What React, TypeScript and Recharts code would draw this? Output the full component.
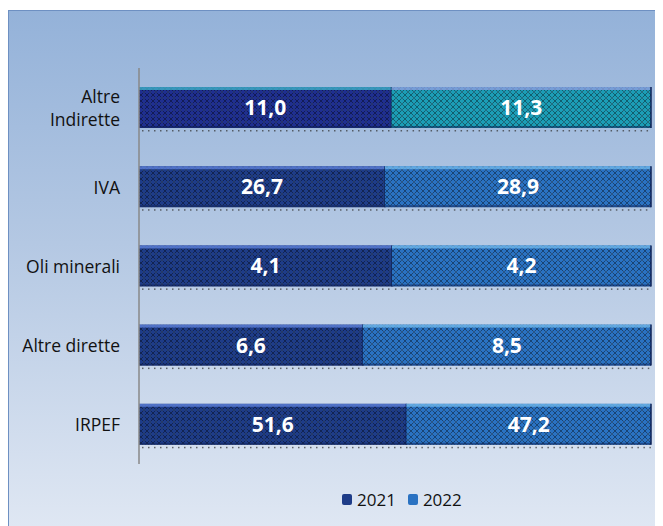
import { BarChart, Bar, XAxis, YAxis, Legend, LabelList, Cell } from 'recharts'

const categories = ['Altre Indirette', 'IVA', 'Oli minerali', 'Altre dirette', 'IRPEF']
const values2021 = [11.0, 26.7, 4.1, 6.6, 51.6]
const values2022 = [11.3, 28.9, 4.2, 8.5, 47.2]

const data = categories.map((name, i) => ({ name, v2021: values2021[i], v2022: values2022[i] }))

const fmt = (v: any) => Number(v).toFixed(1).replace('.', ',')

function CatTick(props: any) {
  const { x, y, payload } = props
  const text: string = payload.value
  const lines = text.length > 14 ? text.split(' ') : [text]
  const lh = 23
  const startY = y - ((lines.length - 1) * lh) / 2
  return (
    <text x={x - 11} y={startY} textAnchor="end" fontSize={17.5} fill="#111" fontFamily="Open Sans, sans-serif" dominantBaseline="central">
      {lines.map((l, i) => (
        <tspan key={i} x={x - 11} dy={i === 0 ? 0 : lh}>{l}</tspan>
      ))}
    </text>
  )
}

function BarShape(props: any) {
  const { x, y, width, height, fill, edge } = props
  if (!width || width <= 0) return null
  const dots = []
  for (let dx = 3; dx < width; dx += 6) {
    dots.push(<rect key={dx} x={x + dx} y={y + height + 2} width={1.5} height={1.5} fill="#333" opacity={0.7} />)
  }
  return (
    <g>
      <rect x={x} y={y} width={width} height={height} fill={fill} />
      <rect x={x} y={y} width={width} height={3} fill={edge} opacity={0.8} />
      <rect x={x} y={y + height - 2} width={width} height={2} fill="#0d1f55" opacity={0.5} />
      <line x1={x + width} y1={y} x2={x + width} y2={y + height} stroke="#0d1f55" strokeWidth={1.5} />
      {dots}
    </g>
  )
}

function LegendContent() {
  const items = [
    { label: '2021', color: '#1e3c88' },
    { label: '2022', color: '#2a72c2' },
  ]
  return (
    <div style={{ display: 'flex', gap: 12, paddingLeft: 333, fontFamily: 'Open Sans, sans-serif', fontSize: 17, color: '#111' }}>
      {items.map(it => (
        <div key={it.label} style={{ display: 'flex', alignItems: 'center', gap: 5 }}>
          <span style={{ display: 'inline-block', width: 10, height: 11, background: it.color, borderRadius: 2 }} />
          <span>{it.label}</span>
        </div>
      ))}
    </div>
  )
}

export default function App() {
  return (
    <div style={{
      marginTop: 2,
      width: 654,
      height: 516,
      border: '1px solid #6e90c2',
      borderBottom: 'none',
      background: 'linear-gradient(180deg, #94b2d9 0%, #b4c8e3 45%, #dfe7f3 100%)',
    }}>
      <BarChart
        width={654}
        height={516}
        data={data}
        layout="vertical"
        stackOffset="expand"
        barCategoryGap="24%"
        margin={{ top: 57, right: 12, left: 0, bottom: 40 }}
      >
        <defs>
          <pattern id="hatch" width="6" height="6" patternUnits="userSpaceOnUse">
            <path d="M0,0 L6,6 M6,0 L0,6" stroke="#000" strokeOpacity="0.4" strokeWidth="1" />
            <rect x="2.5" y="2.5" width="1" height="1" fill="#9fd0ff" fillOpacity="0.5" />
          </pattern>
          <pattern id="p21" width="6" height="6" patternUnits="userSpaceOnUse">
            <rect width="6" height="6" fill="#1e3c88" />
            <rect width="6" height="6" fill="url(#hatch)" />
          </pattern>
          <pattern id="p21b" width="6" height="6" patternUnits="userSpaceOnUse">
            <rect width="6" height="6" fill="#1f2f90" />
            <rect width="6" height="6" fill="url(#hatch)" />
          </pattern>
          <pattern id="p22" width="6" height="6" patternUnits="userSpaceOnUse">
            <rect width="6" height="6" fill="#2a72c2" />
            <rect width="6" height="6" fill="url(#hatch)" />
          </pattern>
          <pattern id="p22b" width="6" height="6" patternUnits="userSpaceOnUse">
            <rect width="6" height="6" fill="#1c9db6" />
            <rect width="6" height="6" fill="url(#hatch)" />
          </pattern>
        </defs>
        <XAxis type="number" hide domain={[0, 1]} />
        <YAxis
          type="category"
          dataKey="name"
          width={130}
          axisLine={{ stroke: '#888', strokeWidth: 1.5 }}
          tickLine={false}
          tick={<CatTick />}
        />
        <Legend verticalAlign="bottom" wrapperStyle={{ top: 477, left: 0, width: 654 }} content={<LegendContent />} />
        <Bar dataKey="v2021" name="2021" stackId="a" fill="url(#p21)" isAnimationActive={false}
          shape={(p: any) => <BarShape {...p} edge={p.index === 0 ? '#3fb0c8' : '#5c7fd8'} />}>
          {data.map((_, i) => <Cell key={i} fill={i === 0 ? 'url(#p21b)' : 'url(#p21)'} />)}
          <LabelList dataKey="v2021" position="center" formatter={fmt} fill="#fff" fontSize={21} fontWeight={700} fontFamily="Open Sans, sans-serif" />
        </Bar>
        <Bar dataKey="v2022" name="2022" stackId="a" fill="url(#p22)" isAnimationActive={false}
          shape={(p: any) => <BarShape {...p} edge={p.index === 0 ? '#8c9ee0' : '#6fb6ea'} />}>
          {data.map((_, i) => <Cell key={i} fill={i === 0 ? 'url(#p22b)' : 'url(#p22)'} />)}
          <LabelList dataKey="v2022" position="center" formatter={fmt} fill="#fff" fontSize={21} fontWeight={700} fontFamily="Open Sans, sans-serif" />
        </Bar>
      </BarChart>
    </div>
  )
}
